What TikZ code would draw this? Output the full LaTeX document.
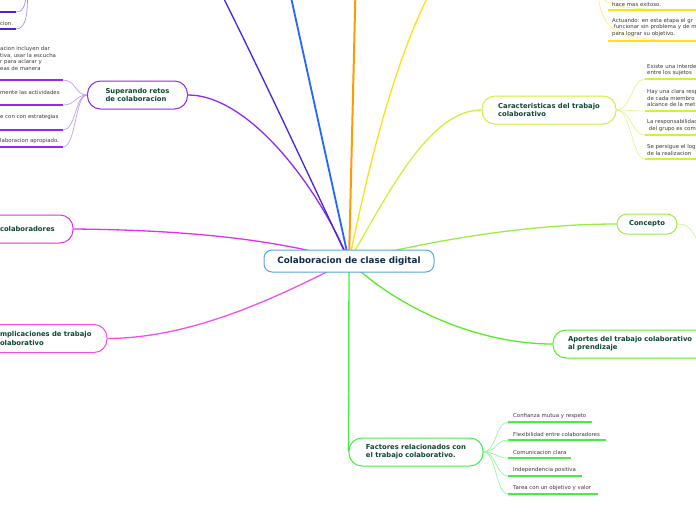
\documentclass[tikz,border=0pt]{standalone}
\usepackage{fontspec}
\setmainfont{DejaVu Sans}
\usetikzlibrary{backgrounds}
\definecolor{cmain}{HTML}{5AA5DC}
\definecolor{ctxt}{HTML}{0F2A4A}
\definecolor{btxt}{HTML}{0D4636}
\definecolor{gtxt}{HTML}{3A3A3A}
\definecolor{cpurple}{HTML}{8E2BEE}
\definecolor{cpurplel}{HTML}{C39AF5}
\definecolor{cnavy}{HTML}{4A22D8}
\definecolor{cnavyl}{HTML}{9A94FF}
\definecolor{cblue}{HTML}{2266FF}
\definecolor{corange}{HTML}{FF9A00}
\definecolor{cyellow}{HTML}{FFE014}
\definecolor{cyellowl}{HTML}{FFF07A}
\definecolor{cyg}{HTML}{D2F03A}
\definecolor{cygl}{HTML}{E6F68C}
\definecolor{clime}{HTML}{99EE44}
\definecolor{climel}{HTML}{C8F59A}
\definecolor{cgreenA}{HTML}{55EE22}
\definecolor{cgreenB}{HTML}{44EE44}
\definecolor{cgreenBl}{HTML}{9AF59A}
\definecolor{cmag}{HTML}{DD33EE}
\definecolor{cpink}{HTML}{F250E6}
\begin{document}
\begin{tikzpicture}[x=1pt,y=-1pt,
  mainbox/.style={draw=cmain, fill=white, line width=1pt, rounded corners=8pt,
    minimum width=170pt, minimum height=22pt, inner sep=0pt,
    font=\fontsize{8.8}{10}\selectfont\bfseries, text=ctxt},
  branch/.style={fill=white, line width=1pt, rounded corners=13pt, minimum height=28pt,
    inner ysep=0pt, align=left, font=\fontsize{6.8}{8.2}\selectfont\bfseries, text=btxt},
  childtext/.style={inner sep=0pt, align=left, anchor=west,
    font=\fontsize{5.4}{6.6}\selectfont, text=gtxt},
  maincon/.style={line width=1.3pt},
  subcon/.style={line width=0.7pt},
  uline/.style={line width=1.7pt}
]
\useasboundingbox (0,0) rectangle (696,520);
\clip (0,0) rectangle (696,520);

% ---- nodes ----
\node[mainbox] (c) at (349,261) {Colaboracion de clase digital};
\node[branch, draw=cpurple, minimum width=100pt] (sup) at (137.5,95) {Superando retos\\de colaboracion};
\node[branch, draw=cyg, minimum width=134pt] (car) at (549,110) {Caracteristicas del trabajo\\colaborativo};
\node[branch, draw=clime, minimum width=60pt, minimum height=20pt, rounded corners=10pt, align=center] (con) at (647,224) {Concepto};
\node[branch, draw=cgreenA, text width=140pt, inner xsep=15pt] (apo) at (638,344) {\mbox{Aportes del trabajo colaborativo}\\\mbox{al prendizaje}};
\node[branch, draw=cgreenB, minimum width=134pt] (fac) at (416,452) {Factores relacionados con\\el trabajo colaborativo.};
\node[branch, draw=cmag, text width=57pt, inner xsep=16pt] (col) at (28.5,229) {\mbox{colaboradores}};
\node[branch, draw=cpink, text width=91pt, inner xsep=16pt] (imp) at (45.5,338.5) {\mbox{mplicaciones de trabajo}\\\mbox{olaborativo}};

% ---- child texts ----
\node[childtext] (s0) at (0,23) {cion.};
\node[childtext] (s1) at (0,58.5) {acion incluyen dar\\tiva, usar la escucha\\r para aclarar y\\eas de manera};
\node[childtext] (s2) at (0,92) {mente las actividades};
\node[childtext] (s3) at (0,117) {e con con estrategias};
\node[childtext] (s4) at (0,141) {laboracion apropiado.};

\node[childtext] (y1) at (612,4.5) {hace mas exitoso.};
\node[childtext] (y2) at (612,27.5) {Actuando: en esta etapa el gr\\\ funcionar sin problema y de m\\para lograr su objetivo.};

\node[childtext] (k1) at (647,70) {Existe una interde\\entre los sujetos};
\node[childtext] (k2) at (647,98) {Hay una clara resp\\de cada miembro\\alcance de la met};
\node[childtext] (k3) at (647,125.5) {La responsabilidad\\\ del grupo es com};
\node[childtext] (k4) at (647,150) {Se persigue el log\\de la realizacion};

\node[childtext] (f1) at (513,416) {Confianza mutua y respeto};
\node[childtext] (f2) at (513,434) {Flexibilidad entre colaboradores};
\node[childtext] (f3) at (513,452) {Comunicacion clara};
\node[childtext] (f4) at (513,470) {Independencia positiva};
\node[childtext] (f5) at (513,488) {Tarea con un objetivo y valor};

% ---- coordinates ----
\coordinate (tl) at (27,-25);
\coordinate (navyend) at (212,-25);
\coordinate (blueend) at (285,-30);
\coordinate (orangeend) at (356,-30);
\coordinate (yellowend) at (442,-30);
\coordinate (yp) at (596,-30);
\coordinate (conend) at (702,250);
\foreach \n/\y in {a/12, b/29} {
  \coordinate (tl\n0) at (0,\y); \coordinate (tl\n1) at (16,\y);
}
\foreach \n/\y in {1/80, 2/105, 3/130, 4/147} {
  \coordinate (su\n0) at (0,\y); \coordinate (su\n1) at (63,\y);
}
\foreach \n/\y in {1/10, 2/41} {
  \coordinate (ye\n0) at (608,\y); \coordinate (ye\n1) at (700,\y);
}
\foreach \n/\y in {1/79, 2/111, 3/135, 4/159} {
  \coordinate (ca\n0) at (645,\y); \coordinate (ca\n1) at (700,\y);
}
\foreach \n/\y/\e in {1/422/592, 2/440/606, 3/458/571, 4/476/582, 5/494/598} {
  \coordinate (fa\n0) at (508,\y); \coordinate (fa\n1) at (\e,\y);
}

\begin{scope}[on background layer]
  % main connectors
  \draw[maincon, cpurple] (sup.east) .. controls (250,95) and (320,190) .. (c.center);
  \draw[maincon, cnavy] (c.center) .. controls (320,200) and (265,80) .. (navyend);
  \draw[maincon, cblue, line width=1.8pt] (c.center) -- (blueend);
  \draw[maincon, corange, line width=2pt] (c.center) -- (orangeend);
  \draw[maincon, cyellow] (c.center) .. controls (368,170) and (395,50) .. (yellowend);
  \draw[maincon, cyg] (c.center) .. controls (390,190) and (430,110) .. (car.west);
  \draw[maincon, clime] (c.center) .. controls (450,236) and (540,224) .. (con.west);
  \draw[maincon, cgreenA] (c.center) .. controls (400,310) and (480,344) .. (apo.west);
  \draw[maincon, cgreenB] (c.center) -- (fac.west);
  \draw[maincon, cmag] (col.east) .. controls (190,230) and (280,240) .. (c.center);
  \draw[maincon, cpink] (imp.east) .. controls (200,338) and (290,290) .. (c.center);

  % top-left children
  \draw[subcon, cnavyl] (tl) .. controls (27,5) and (24,12) .. (tla1);
  \draw[subcon, cnavyl] (tl) .. controls (29,15) and (26,29) .. (tlb1);
  % superando children
  \foreach \n in {1,2,3,4} {
    \draw[subcon, cpurplel] (sup.west) .. controls (75,95) and (76,0 |- su\n1) .. (su\n1);
  }
  % yellow children
  \draw[subcon, cyellowl] (yp) .. controls (596,5) and (599,10) .. (ye11);
  \draw[subcon, cyellowl] (yp) .. controls (600,30) and (601,41) .. (ye21);
  % caracteristicas children
  \foreach \n in {1,2,3,4} {
    \draw[subcon, cygl] (car.east) .. controls (631,110) and (632,0 |- ca\n0) .. (ca\n0);
  }
  % concepto child
  \draw[subcon, climel] (con.east) .. controls (690,224) and (693,232) .. (conend);
  % factores children
  \foreach \n in {1,2,3,4,5} {
    \draw[subcon, cgreenBl] (fac.east) .. controls (496,452) and (496,0 |- fa\n0) .. (fa\n0);
  }
\end{scope}

% ---- underlines ----
\draw[uline, cnavy] (tla0) -- (tla1);
\draw[uline, cnavy] (tlb0) -- (tlb1);
\foreach \n in {1,2,3,4} { \draw[uline, cpurple] (su\n0) -- (su\n1); }
\foreach \n in {1,2} { \draw[uline, cyellow] (ye\n0) -- (ye\n1); }
\foreach \n in {1,2,3,4} { \draw[uline, cyg] (ca\n0) -- (ca\n1); }
\foreach \n in {1,2,3,4,5} { \draw[uline, cgreenB] (fa\n0) -- (fa\n1); }
\end{tikzpicture}
\end{document}
